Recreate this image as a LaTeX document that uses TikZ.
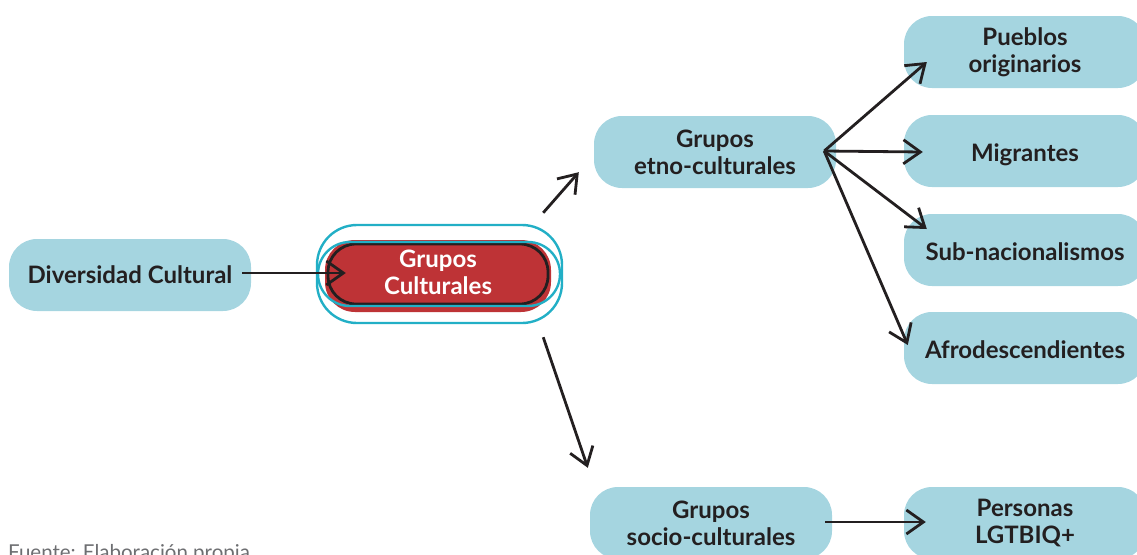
\documentclass[tikz,border=0pt]{standalone}
\usepackage{fontspec}
\setmainfont{Lato}
\usetikzlibrary{arrows.meta,calc}
\definecolor{boxblue}{HTML}{A5D5E0}
\definecolor{boxred}{HTML}{BE3336}
\definecolor{ringcyan}{HTML}{22AFC6}
\definecolor{txt}{HTML}{231F20}
\definecolor{fuente}{HTML}{6D6E71}
\newcommand{\lowtxt}[2]{\raisebox{-#1}[\height][\depth]{#2}}
\tikzset{
  pill/.style={fill=boxblue, rounded corners=28pt, minimum width=242pt, minimum height=72pt,
    inner sep=0pt, align=center, text=txt, font=\bfseries\fontsize{24}{27}\selectfont},
  conn/.style={draw=txt, line width=2.8pt, -{Straight Barb[length=17pt,width=24pt,line width=2.8pt]}},
}
\begin{document}
\begin{tikzpicture}[x=1pt,y=-1pt]
\useasboundingbox (0,0) rectangle (1137,554);
% nodes
\node[pill] (div) at (130,275) {Diversidad Cultural};
\node[pill] (etno) at (715,152) {Grupos\\etno-culturales};
\node[pill] (socio) at (711,523) {Grupos\\socio-culturales};
\node[pill] (pueblos) at (1025,52) {Pueblos\\originarios};
\node[pill] (migr) at (1025,151) {\lowtxt{4pt}{Migrantes}};
\node[pill] (subn) at (1025,250) {\lowtxt{2pt}{Sub-nacionalismos}};
\node[pill] (afro) at (1025,348) {\lowtxt{2pt}{Afrodescendientes}};
\node[pill] (lgtb) at (1025,523) {Personas\\LGTBIQ+};
% central node
\node[fill=boxred, rounded corners=30pt, minimum width=226pt, minimum height=72pt, inner sep=0pt] (gc) at (438,276) {};
\draw[txt, line width=2.8pt, rounded corners=28pt] (328,244) rectangle (548,304);
\draw[ringcyan, line width=2.4pt, rounded corners=40pt] (317,225) rectangle (562,323);
\draw[ringcyan, line width=2.4pt, rounded corners=32pt] (318,242) rectangle (560,306);
\node[align=center, text=white, font=\bfseries\fontsize{24}{27}\selectfont] (gctext) at (438,272) {Grupos\\Culturales};
% connectors
\coordinate (hub) at ($(etno.east)+(-12,-1)$);
\draw[conn] ($(div.east)+(-9,-2)$) -- ($(gc.west)+(21,-3)$);
\draw[conn] ($(gc.north east)+(-8,-27)$) -- ($(etno.south west)+(-15,-16)$);
\draw[conn] ($(gc.south east)+(-8,25)$) -- ($(socio.north west)+(-2,-19)$);
\draw[conn] (hub) -- ($(pueblos.west)+(23,10)$);
\draw[conn] (hub) -- ($(migr.west)+(19,1)$);
\draw[conn] (hub) -- ($(subn.west)+(23,-21)$);
\draw[conn] (hub) -- ($(afro.west)+(4,-3)$);
\draw[conn] ($(socio.east)+(-7,-1)$) -- ($(lgtb.west)+(22,-1)$);
% source note
\node[anchor=base west, text=fuente, font=\fontsize{20.5}{24}\selectfont, inner sep=0pt] (src) at (8,559) {Fuente: Elaboración propia};
\end{tikzpicture}
\end{document}
